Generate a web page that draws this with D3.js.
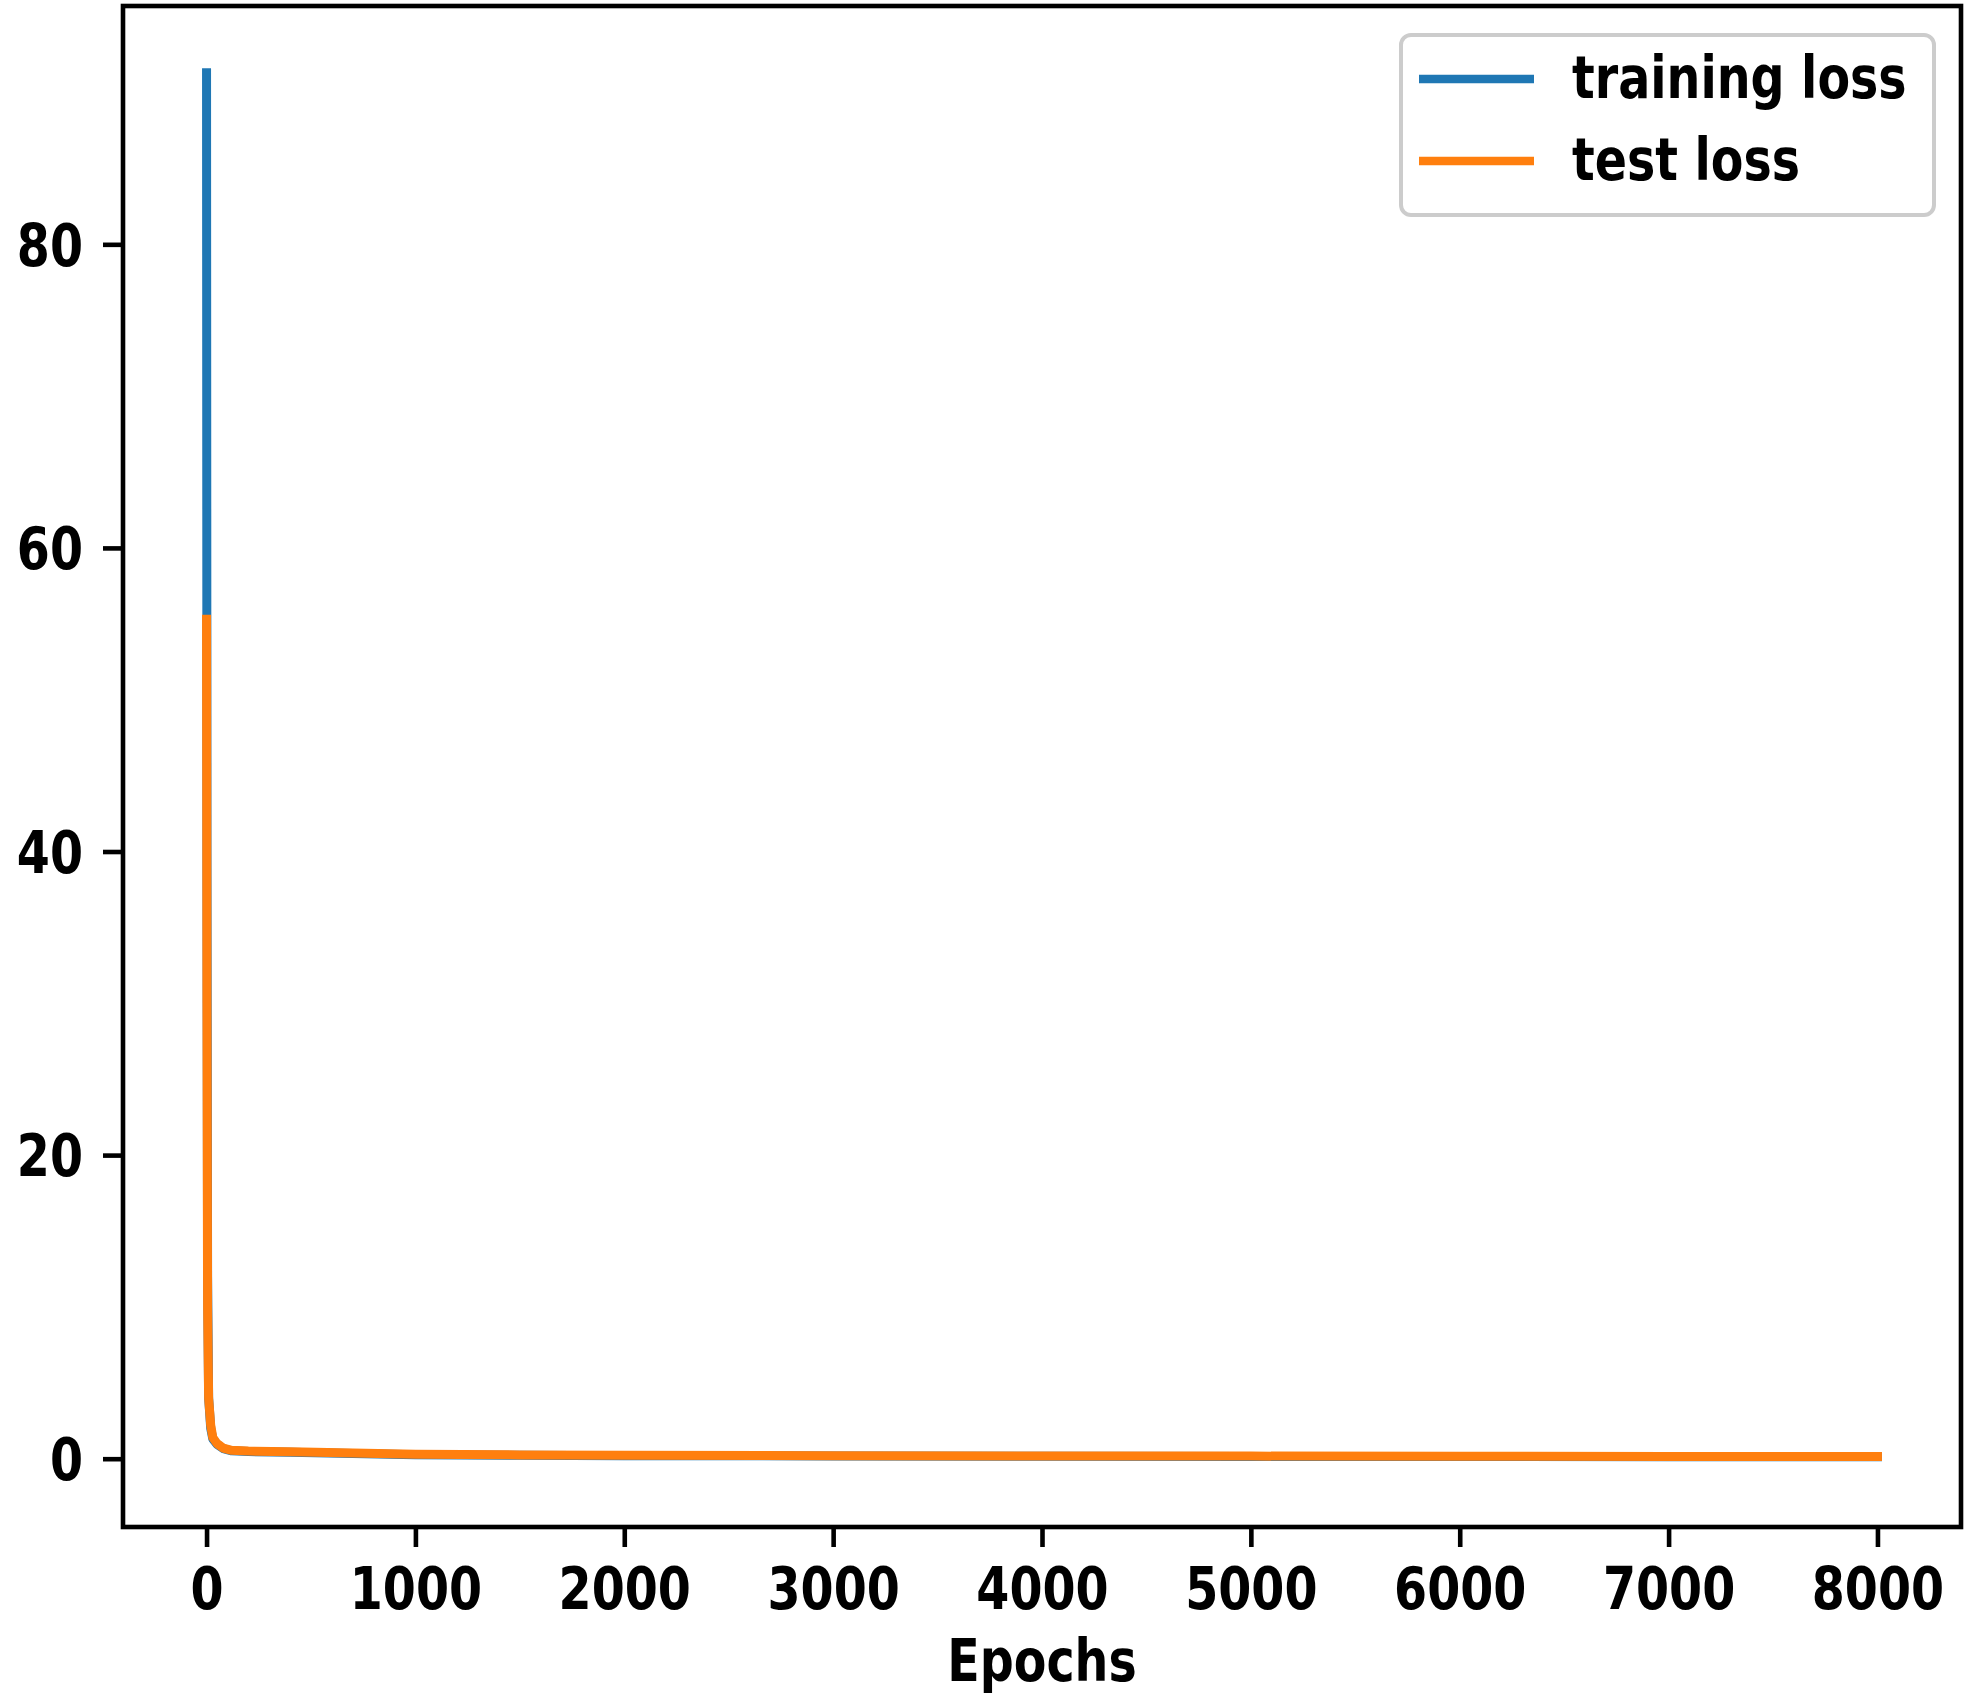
<!DOCTYPE html>
<html>
<head>
<meta charset="utf-8">
<script src="https://cdn.jsdelivr.net/npm/d3@7"></script>
<style>
  html, body { margin: 0; padding: 0; background: #fff; }
  svg { display: block; }
  text { font-family: "DejaVu Sans", sans-serif; font-weight: bold; fill: #000; }
</style>
</head>
<body>
<svg id="chart" width="1969" height="1703"></svg>
<script>
// ---- data ----
const epochs       = [0, 2, 5, 10, 20, 30, 50, 80, 120, 200, 400, 700, 1000, 1500, 2000, 3000, 4000, 5000, 6000, 7000, 8000];
const trainingLoss = [91.3, 40, 12, 4, 2, 1.3, 0.95, 0.66, 0.52, 0.47, 0.42, 0.34, 0.26, 0.22, 0.2, 0.18, 0.16, 0.15, 0.14, 0.13, 0.13];
const testLoss     = [55.3, 30, 10, 4, 2.2, 1.4, 1.0, 0.7, 0.55, 0.5, 0.45, 0.38, 0.3, 0.25, 0.22, 0.2, 0.18, 0.17, 0.16, 0.15, 0.15];
const xTicks = [0, 1000, 2000, 3000, 4000, 5000, 6000, 7000, 8000];
const yTicks = [0, 20, 40, 60, 80];
const seriesNames = ["training loss", "test loss"];
const seriesColors = ["#1f77b4", "#ff7f0e"];
const xLabel = "Epochs";

// ---- layout ----
const L = 123, T = 6, R = 1961, B = 1527;
const FS = 58, SQ = 0.82; // font size, horizontal squeeze of text
const svg = d3.select("#chart");

const x = d3.scaleLinear().domain([-400, 8400]).range([L, R]);
const y = d3.scaleLinear().domain([-4.5, 95.7]).range([B, T]);

// horizontally squeeze a text element around its own anchor
function squeeze(sel) {
  sel.each(function () {
    const t = d3.select(this);
    const x0 = +(t.attr("x") || 0);
    t.attr("x", x0 / SQ).attr("transform", `scale(${SQ},1)`);
  });
}

// lines
const series = [trainingLoss, testLoss];
const line = d3.line().x((d, i) => x(epochs[i])).y(d => y(d));
series.forEach((s, k) => {
  svg.append("path")
    .datum(s)
    .attr("d", line)
    .attr("fill", "none")
    .attr("stroke", seriesColors[k])
    .attr("stroke-width", 9)
    .attr("stroke-linejoin", "round")
    .attr("stroke-linecap", "square");
});

// axes
const xAxis = svg.append("g").attr("transform", `translate(0,${B})`)
  .call(d3.axisBottom(x).tickValues(xTicks).tickSize(20).tickPadding(20).tickFormat(d3.format("d")));
const yAxis = svg.append("g").attr("transform", `translate(${L},0)`)
  .call(d3.axisLeft(y).tickValues(yTicks).tickSize(20).tickPadding(20).tickFormat(d3.format("d")));
[xAxis, yAxis].forEach(g => {
  g.select(".domain").remove();
  g.selectAll(".tick line").attr("stroke", "#000").attr("stroke-width", 4.6);
  g.selectAll(".tick text").style("font-size", FS + "px").style("font-family", "DejaVu Sans").style("font-weight", "bold").attr("fill", "#000");
});
xAxis.selectAll(".tick text").attr("dy", "0.73em").call(squeeze);
yAxis.selectAll(".tick text").attr("dy", "0.36em").call(squeeze);

// frame (spines)
svg.append("rect")
  .attr("x", L).attr("y", T).attr("width", R - L).attr("height", B - T)
  .attr("fill", "none").attr("stroke", "#000").attr("stroke-width", 4.6);

// x label
svg.append("text")
  .attr("x", (L + R) / 2).attr("y", 1681)
  .attr("text-anchor", "middle")
  .style("font-size", FS + "px")
  .text(xLabel)
  .call(squeeze);

// legend
const lg = svg.append("g");
lg.append("rect")
  .attr("x", 1401).attr("y", 35).attr("width", 533).attr("height", 180)
  .attr("rx", 10).attr("ry", 10)
  .attr("fill", "#fff").attr("fill-opacity", 0.8)
  .attr("stroke", "#cccccc").attr("stroke-width", 4);
const legendY = [79, 161];
seriesNames.forEach((name, k) => {
  lg.append("line")
    .attr("x1", 1419).attr("x2", 1534)
    .attr("y1", legendY[k]).attr("y2", legendY[k])
    .attr("stroke", seriesColors[k]).attr("stroke-width", 8.7);
  lg.append("text")
    .attr("x", 1572).attr("y", legendY[k] + 19)
    .style("font-size", FS + "px")
    .text(name)
    .call(squeeze);
});
</script>
</body>
</html>
